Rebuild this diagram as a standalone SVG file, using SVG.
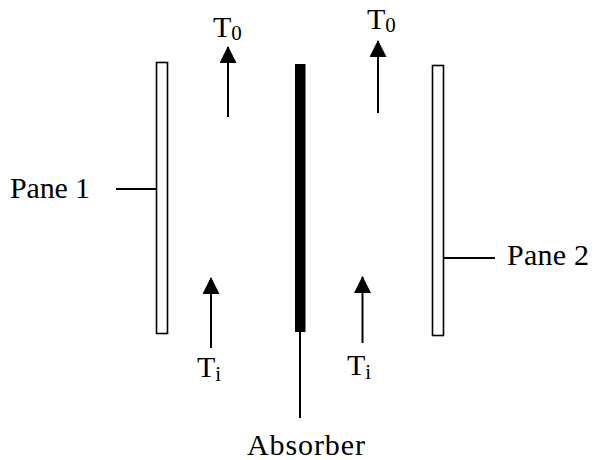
<svg xmlns="http://www.w3.org/2000/svg" width="595" height="460" viewBox="0 0 595 460">
<style>
text{font-family:"Liberation Serif","Times New Roman",serif;font-size:30px;fill:#000}
.sub{font-size:21px}
.pane{fill:#fff;stroke:#000;stroke-width:1.6}
.ln{stroke:#000;stroke-width:2;fill:none}
</style>
<defs>
<marker id="ah" markerUnits="userSpaceOnUse" markerWidth="17" markerHeight="17" viewBox="0 0 17 17" refX="16" refY="8.5" orient="auto">
<path d="M0,0 L17,8.5 L0,17 Z" fill="#000"/>
</marker>
</defs>
<rect width="595" height="460" fill="#fff"/>
<g id="pane1">
<rect class="pane" x="156.5" y="62.5" width="11" height="271"/>
<text x="10" y="198" textLength="80">Pane 1</text>
</g>
<g id="pane2">
<rect class="pane" x="432.5" y="65.5" width="11" height="270"/>
<text x="507" y="265" textLength="82">Pane 2</text>
</g>
<g id="absorber">
<rect x="295" y="64" width="10.5" height="268" fill="#000"/>
<text x="247" y="455" textLength="118">Absorber</text>
</g>
<g id="t0-left"><text x="213" y="37">T<tspan class="sub" dy="3">0</tspan></text></g>
<g id="t0-right"><text x="367" y="29">T<tspan class="sub" dy="3">0</tspan></text></g>
<g id="ti-left"><text x="197" y="377">T<tspan class="sub" dy="4">i</tspan></text></g>
<g id="ti-right"><text x="347" y="375">T<tspan class="sub" dy="4">i</tspan></text></g>
<g id="connectors">
<line class="ln" x1="116" y1="189" x2="156" y2="189"/>
<line class="ln" x1="444" y1="258" x2="495" y2="258"/>
<line class="ln" x1="300" y1="332" x2="300" y2="418"/>
<line class="ln" x1="228" y1="117" x2="228" y2="47" marker-end="url(#ah)"/>
<line class="ln" x1="378" y1="113" x2="378" y2="41" marker-end="url(#ah)"/>
<line class="ln" x1="211" y1="348" x2="211" y2="278" marker-end="url(#ah)"/>
<line class="ln" x1="362.5" y1="343" x2="362.5" y2="277" marker-end="url(#ah)"/>
</g>
</svg>
